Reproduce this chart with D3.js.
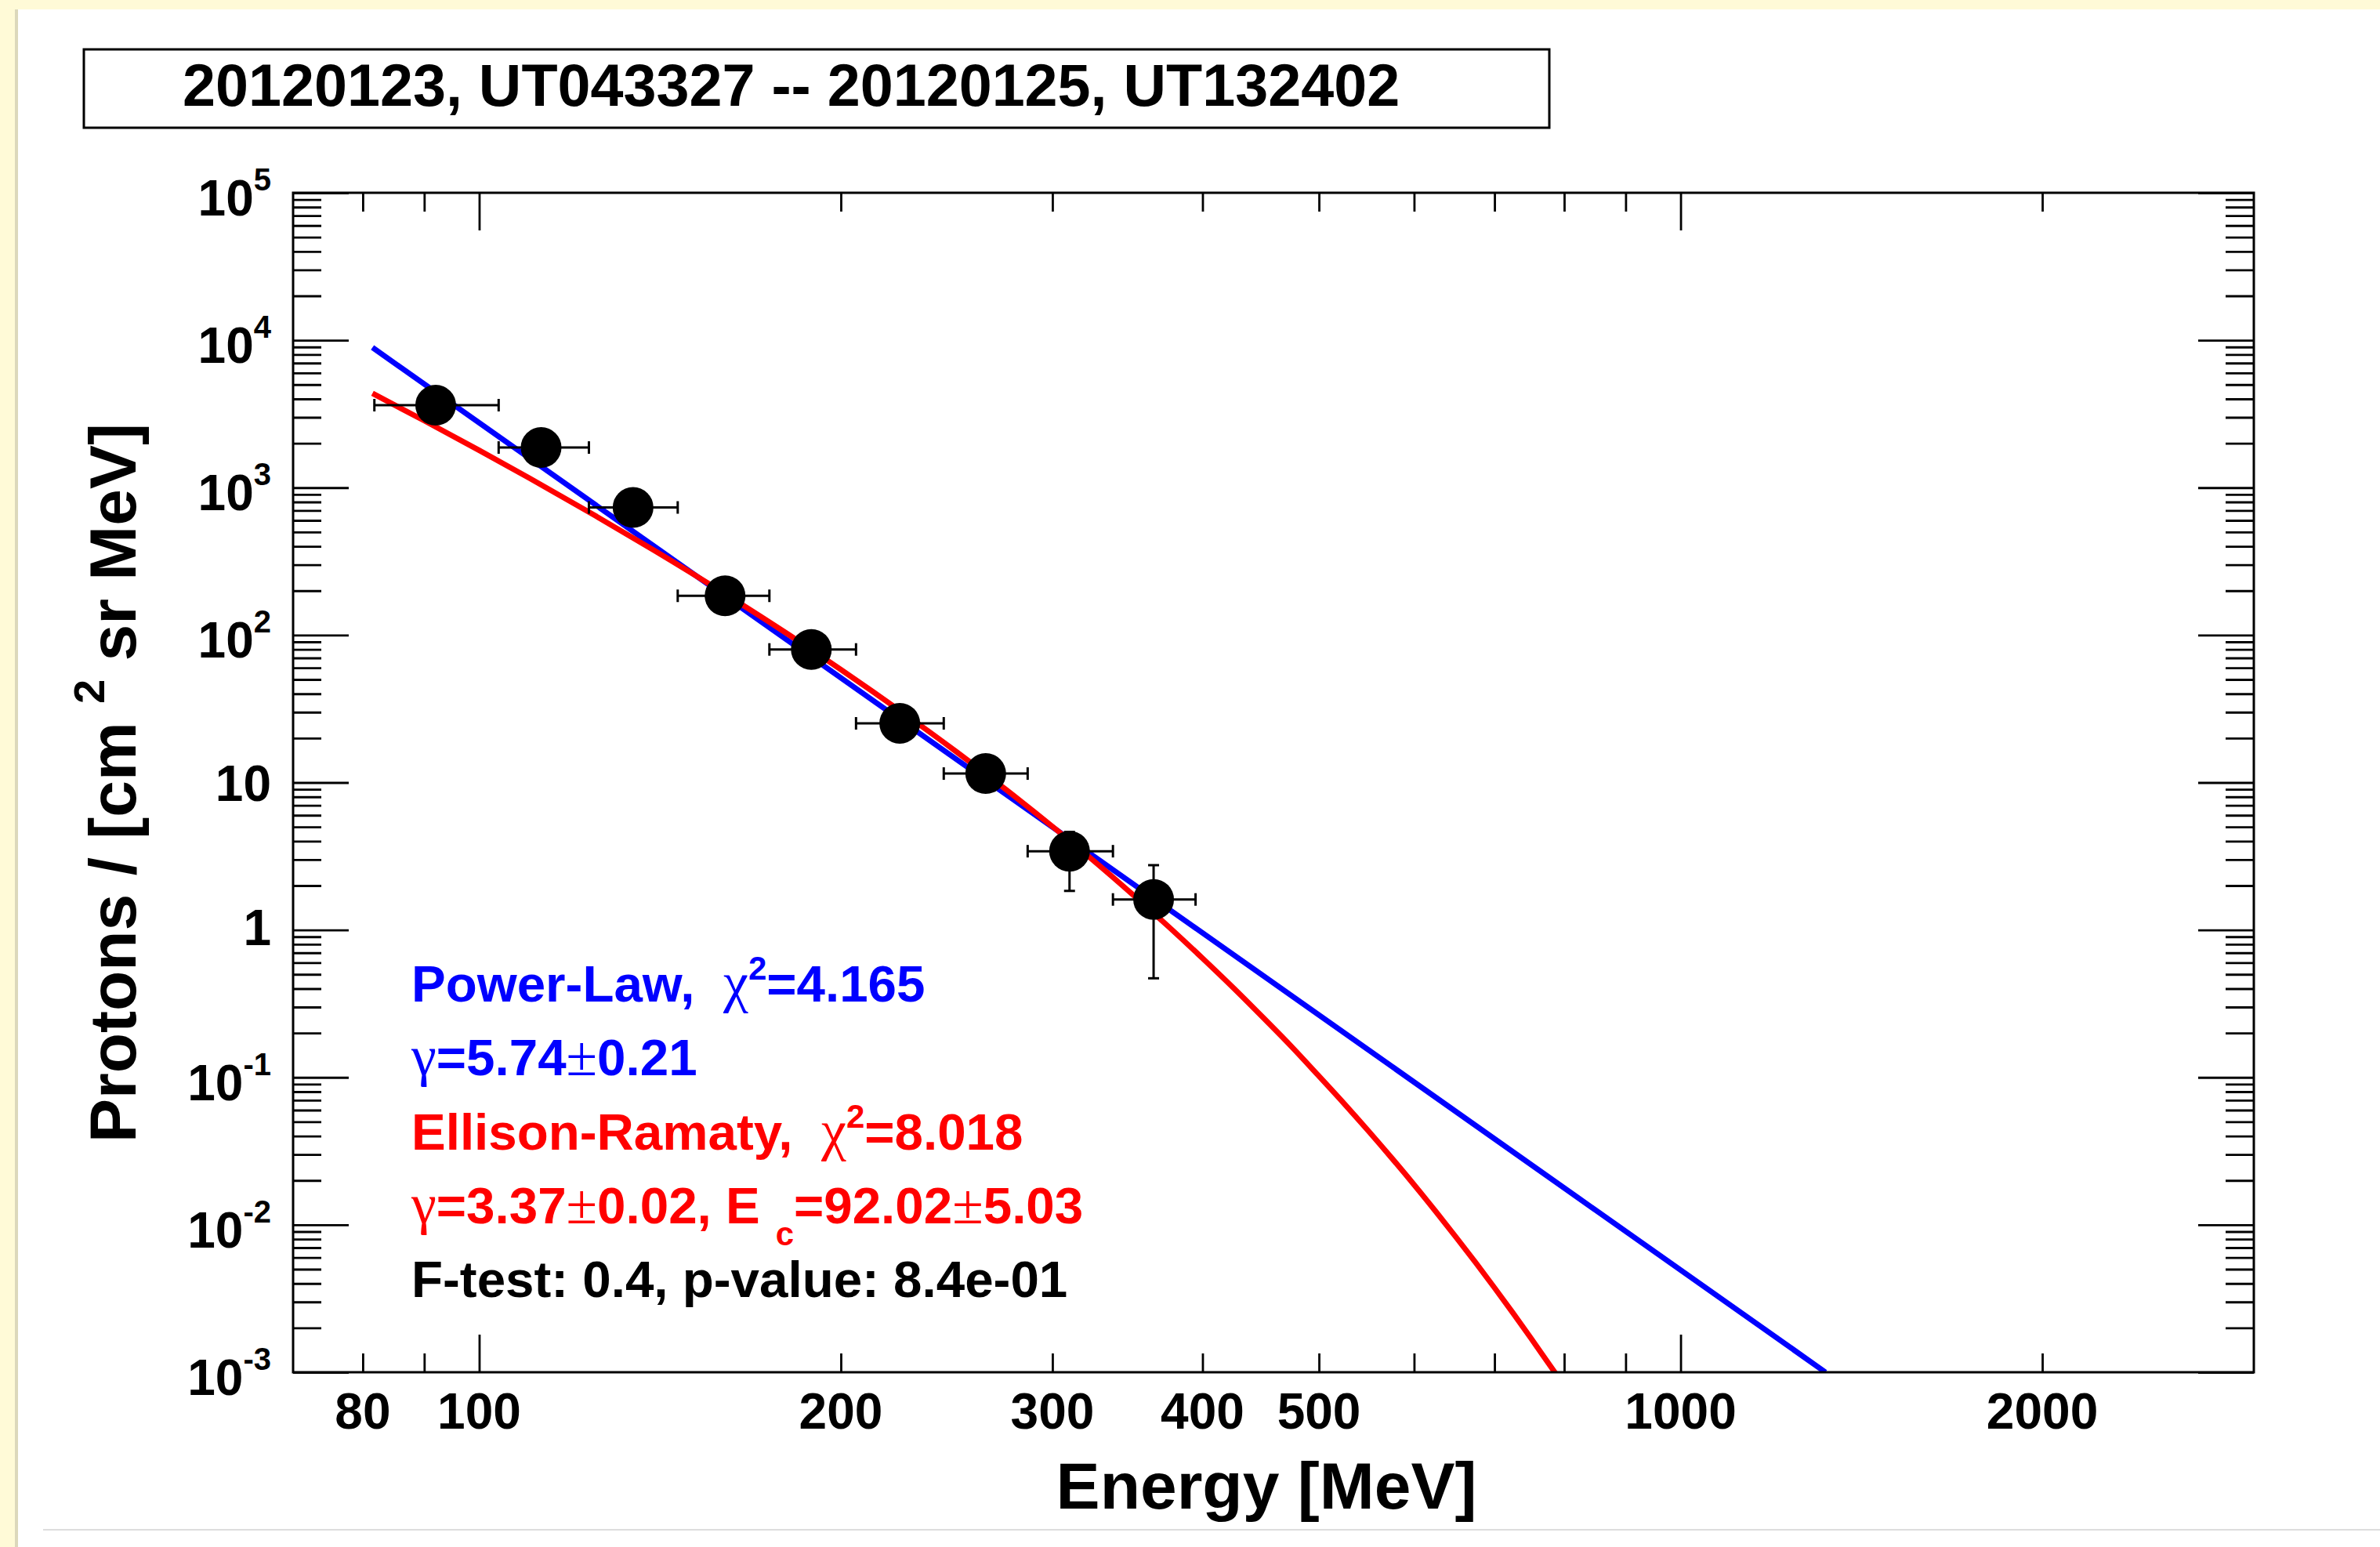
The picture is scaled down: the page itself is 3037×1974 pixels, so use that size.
<!DOCTYPE html>
<html>
<head>
<meta charset="utf-8">
<script src="https://cdn.jsdelivr.net/npm/d3@7"></script>
<style>
  body { margin: 0; background: #fffad7; }
  svg { display: block; }
  text { font-family: "Liberation Sans", Arial, Helvetica, sans-serif; font-weight: bold; }
</style>
</head>
<body>
<svg id="chart" width="3037" height="1974"></svg>
<script>
// measured points (energy in MeV, flux in protons / cm2 sr MeV)
const energy = [92.0, 112.6, 134.3, 160.2, 189.0, 223.9, 264.0, 310.0, 364.2];
const flux = [3625, 1871, 734, 184.7, 79.9, 25.2, 11.5, 3.42, 1.61];
const binLow = [81.8, 103.8, 123.4, 146.3, 174.4, 205.9, 243.6, 286.1, 336.9];
const binHigh = [103.8, 123.4, 146.3, 174.4, 205.9, 243.6, 286.1, 336.9, 394.7];
const fluxErrLow = [300, 160, 70, 20, 9, 3.5, 2.2, 1.58, 1.14];
const fluxErrHigh = [300, 160, 70, 20, 9, 3.5, 2.2, 1.2, 1.14];

// fitted curves
const plEnergy = [81.5, 1320];
const plFlux = [8920, 0.001];
const erEnergy = [81.5, 90, 100, 110, 125, 140, 160, 180, 200, 225, 250, 275, 300, 325, 350, 375,
    400, 425, 450, 475, 500, 525, 550, 575, 600, 625, 650, 675, 700, 725, 750, 783, 800];
const erFlux = [4363, 2847, 1791, 1165, 643, 373, 191.4, 103.6, 58.4, 29.9, 16.0, 8.84, 5.03, 2.93, 1.736, 1.049,
    0.643, 0.400, 0.251, 0.160, 0.102, 0.0661, 0.0431, 0.0283, 0.0187, 0.0124, 0.00827, 0.00555, 0.00374, 0.00253, 0.00172, 0.00104, 0.00081];

// axis ticks
const xMajorTicks = [100, 1000];
const xMinorTicks = [80, 90, 200, 300, 400, 500, 600, 700, 800, 900, 2000];
const xTickLabels = [80, 100, 200, 300, 400, 500, 1000, 2000];
const yDecades = [-3, -2, -1, 0, 1, 2, 3, 4, 5];

const titleText = "20120123, UT043327 -- 20120125, UT132402";
const legendLines = [
    {color: "#0000ff", parts: [{t: "Power-Law,\u00a0\u00a0"}, {t: "\u03c7", serif: true}, {t: "2", sup: true}, {t: "=4.165"}]},
    {color: "#0000ff", parts: [{t: "\u03b3", serif: true}, {t: "=5.74"}, {t: "\u00b1", serif: true}, {t: "0.21"}]},
    {color: "#ff0000", parts: [{t: "Ellison-Ramaty,\u00a0\u00a0"}, {t: "\u03c7", serif: true}, {t: "2", sup: true}, {t: "=8.018"}]},
    {color: "#ff0000", parts: [{t: "\u03b3", serif: true}, {t: "=3.37"}, {t: "\u00b1", serif: true}, {t: "0.02, E"}, {t: "c", sub: true}, {t: "=92.02"}, {t: "\u00b1", serif: true}, {t: "5.03"}]},
    {color: "#000000", parts: [{t: "F-test: 0.4, p-value: 8.4e-01"}]}
];

const svg = d3.select("#chart");
const W = 3037, H = 1974;
const plot = {left: 374, right: 2876, top: 246, bottom: 1751};

// page background (yellow frame, white panel)
svg.append("rect").attr("width", W).attr("height", H).attr("fill", "#fffad7");
svg.append("rect").attr("x", 19).attr("y", 12).attr("width", 5).attr("height", H - 12).attr("fill", "#dcd8bb");
svg.append("rect").attr("x", 23).attr("y", 12).attr("width", W - 23).attr("height", H - 12).attr("fill", "#ffffff");
svg.append("line").attr("x1", 55).attr("x2", W).attr("y1", 1952).attr("y2", 1952)
    .attr("stroke", "#dddddd").attr("stroke-width", 2);

let x = d3.scaleLog().domain([70, 3000]).range([plot.left, plot.right]);
let y = d3.scaleLog().domain([1e-3, 1e5]).range([plot.bottom, plot.top]);

// title box
svg.append("rect").attr("x", 107).attr("y", 63).attr("width", 1870).attr("height", 100)
    .attr("fill", "#ffffff").attr("stroke", "#000").attr("stroke-width", 3);
svg.append("text").attr("x", 233).attr("y", 135).attr("font-size", 75.5).text(titleText);

// ticks on all four sides, pointing inward
function noDomain(g) {
    g.select(".domain").remove();
    g.selectAll(".tick line").attr("stroke", "#000").attr("stroke-width", 2.8);
}

let yMinor = [];
for (let n = -3; n < 5; n++) {
    for (let k = 2; k <= 9; k++) yMinor.push(k * Math.pow(10, n));
}
let yMajor = yDecades.map(function (d) { return Math.pow(10, d); });

svg.append("g").attr("transform", "translate(0," + plot.bottom + ")")
    .call(d3.axisTop(x).tickValues(xMinorTicks).tickSize(24).tickFormat("")).call(noDomain);
svg.append("g").attr("transform", "translate(0," + plot.bottom + ")")
    .call(d3.axisTop(x).tickValues(xMajorTicks).tickSize(48).tickFormat("")).call(noDomain);
svg.append("g").attr("transform", "translate(0," + plot.top + ")")
    .call(d3.axisBottom(x).tickValues(xMinorTicks).tickSize(24).tickFormat("")).call(noDomain);
svg.append("g").attr("transform", "translate(0," + plot.top + ")")
    .call(d3.axisBottom(x).tickValues(xMajorTicks).tickSize(48).tickFormat("")).call(noDomain);

svg.append("g").attr("transform", "translate(" + plot.left + ",0)")
    .call(d3.axisRight(y).tickValues(yMinor).tickSize(36).tickFormat("")).call(noDomain);
svg.append("g").attr("transform", "translate(" + plot.left + ",0)")
    .call(d3.axisRight(y).tickValues(yMajor).tickSize(71).tickFormat("")).call(noDomain);
svg.append("g").attr("transform", "translate(" + plot.right + ",0)")
    .call(d3.axisLeft(y).tickValues(yMinor).tickSize(36).tickFormat("")).call(noDomain);
svg.append("g").attr("transform", "translate(" + plot.right + ",0)")
    .call(d3.axisLeft(y).tickValues(yMajor).tickSize(71).tickFormat("")).call(noDomain);

// tick labels
svg.append("g").selectAll("text")
    .data(xTickLabels)
    .enter()
    .append("text")
    .attr("x", function (d) { return x(d); })
    .attr("y", 1823)
    .attr("text-anchor", "middle")
    .attr("font-size", 64)
    .text(function (d) { return d; });

svg.append("g").selectAll("text")
    .data(yDecades)
    .enter()
    .append("text")
    .attr("x", 346)
    .attr("y", function (d) {
        if (d === 0) return y(1) + 19;
        if (d === 1) return y(10) + 23;
        return y(Math.pow(10, d)) + 29;
    })
    .attr("text-anchor", "end")
    .attr("font-size", 64)
    .each(function (d) {
        let t = d3.select(this);
        if (d === 0) { t.text("1"); return; }
        if (d === 1) { t.text("10"); return; }
        t.append("tspan").text("10");
        t.append("tspan").attr("font-size", 40).attr("dy", -32).text(d);
    });

// axis titles
svg.append("text")
    .attr("x", (plot.left + plot.right) / 2 - 9)
    .attr("y", 1925)
    .attr("text-anchor", "middle")
    .attr("font-size", 84)
    .text("Energy [MeV]");

let ytitle = svg.append("text")
    .attr("transform", "translate(173,999) rotate(-90)")
    .attr("text-anchor", "middle")
    .attr("font-size", 84);
ytitle.append("tspan").text("Protons / [cm ");
ytitle.append("tspan").attr("font-size", 56).attr("dy", -40).text("2");
ytitle.append("tspan").attr("dy", 40).text(" sr MeV]");

// clip for the fit curves
svg.append("clipPath").attr("id", "plotclip")
    .append("rect")
    .attr("x", plot.left).attr("y", plot.top)
    .attr("width", plot.right - plot.left).attr("height", plot.bottom - plot.top);

let line = d3.line()
    .x(function (d) { return x(d[0]); })
    .y(function (d) { return y(d[1]); })
    .curve(d3.curveMonotoneX);

svg.append("path")
    .datum(d3.zip(plEnergy, plFlux))
    .attr("clip-path", "url(#plotclip)")
    .attr("d", line)
    .attr("fill", "none")
    .attr("stroke", "#0000ff")
    .attr("stroke-width", 7);

svg.append("path")
    .datum(d3.zip(erEnergy, erFlux))
    .attr("clip-path", "url(#plotclip)")
    .attr("d", line)
    .attr("fill", "none")
    .attr("stroke", "#ff0000")
    .attr("stroke-width", 7);

// data points with error bars
let points = energy.map(function (e, i) {
    return {e: e, f: flux[i], lo: binLow[i], hi: binHigh[i], fl: flux[i] - fluxErrLow[i], fh: flux[i] + fluxErrHigh[i]};
});

let errs = svg.append("g").attr("stroke", "#000").attr("stroke-width", 3).attr("fill", "none");
let pt = errs.selectAll("g").data(points).enter().append("g");
pt.append("line")
    .attr("x1", function (d) { return x(d.lo); }).attr("x2", function (d) { return x(d.hi); })
    .attr("y1", function (d) { return y(d.f); }).attr("y2", function (d) { return y(d.f); });
pt.append("line")
    .attr("x1", function (d) { return x(d.lo); }).attr("x2", function (d) { return x(d.lo); })
    .attr("y1", function (d) { return y(d.f) - 8; }).attr("y2", function (d) { return y(d.f) + 8; });
pt.append("line")
    .attr("x1", function (d) { return x(d.hi); }).attr("x2", function (d) { return x(d.hi); })
    .attr("y1", function (d) { return y(d.f) - 8; }).attr("y2", function (d) { return y(d.f) + 8; });
pt.append("line")
    .attr("x1", function (d) { return x(d.e); }).attr("x2", function (d) { return x(d.e); })
    .attr("y1", function (d) { return y(d.fl); }).attr("y2", function (d) { return y(d.fh); });
pt.append("line")
    .attr("x1", function (d) { return x(d.e) - 7; }).attr("x2", function (d) { return x(d.e) + 7; })
    .attr("y1", function (d) { return y(d.fl); }).attr("y2", function (d) { return y(d.fl); });
pt.append("line")
    .attr("x1", function (d) { return x(d.e) - 7; }).attr("x2", function (d) { return x(d.e) + 7; })
    .attr("y1", function (d) { return y(d.fh); }).attr("y2", function (d) { return y(d.fh); });

svg.append("g").selectAll("circle")
    .data(points)
    .enter()
    .append("circle")
    .attr("cx", function (d) { return x(d.e); })
    .attr("cy", function (d) { return y(d.f); })
    .attr("r", 26)
    .attr("fill", "#000");

// frame
svg.append("rect")
    .attr("x", plot.left).attr("y", plot.top)
    .attr("width", plot.right - plot.left).attr("height", plot.bottom - plot.top)
    .attr("fill", "none").attr("stroke", "#000").attr("stroke-width", 3);

// fit legend
let legend = svg.append("g");
legendLines.forEach(function (ln, i) {
    let t = legend.append("text")
        .attr("x", 525)
        .attr("y", 1278 + i * 94.3)
        .attr("font-size", 65.5)
        .attr("fill", ln.color);
    let shift = 0;
    ln.parts.forEach(function (p) {
        let s = t.append("tspan").text(p.t);
        let dy = -shift;
        shift = 0;
        if (p.serif) {
            s.attr("font-family", "'Liberation Serif', 'Times New Roman', serif")
                .attr("font-weight", "normal")
                .attr("font-size", 72);
        }
        if (p.sup) {
            s.attr("font-size", 42);
            dy += -28; shift = -28;
        }
        if (p.sub) {
            s.attr("font-size", 42).attr("dx", 20);
            dy += 28; shift = 28;
        }
        if (dy !== 0) s.attr("dy", dy);
    });
});
</script>
</body>
</html>
